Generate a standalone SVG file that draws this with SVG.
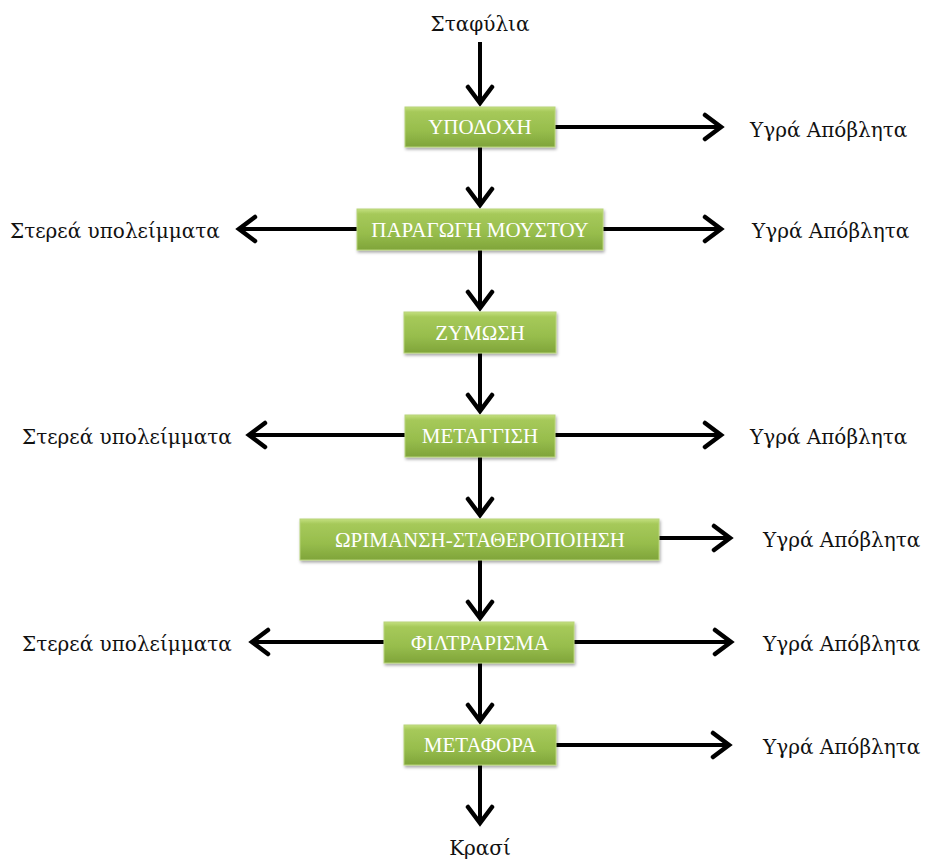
<svg xmlns="http://www.w3.org/2000/svg" width="925" height="861" viewBox="0 0 925 861">
<style>
.lbl{font-family:"DejaVu Serif","Liberation Serif",serif;font-size:20px;fill:#111}
.bt{font-family:"Liberation Serif","DejaVu Serif",serif;font-size:21px;fill:#fff;text-anchor:middle}
.box{fill:url(#g);stroke:#b8d47a;stroke-width:1;filter:url(#sh)}
.ar{stroke:#000;stroke-width:4;fill:none;marker-end:url(#ah)}
</style>
<defs>
<linearGradient id="g" x1="0" y1="0" x2="0" y2="1">
<stop offset="0" stop-color="#c3df7e"/>
<stop offset="0.12" stop-color="#a6c95a"/>
<stop offset="0.6" stop-color="#97bd4c"/>
<stop offset="1" stop-color="#7fa43a"/>
</linearGradient>
<filter id="sh" x="-10%" y="-20%" width="120%" height="150%">
<feDropShadow dx="1" dy="2" stdDeviation="1.5" flood-color="#000" flood-opacity="0.35"/>
</filter>
<marker id="ah" markerUnits="userSpaceOnUse" markerWidth="30" markerHeight="30" viewBox="-20 -15 24 30" refX="0" refY="0" orient="auto">
<path d="M-16 -12 L0 0 L-16 12" fill="none" stroke="#000" stroke-width="4.5" stroke-linecap="round" stroke-linejoin="miter"/>
</marker>
</defs>
<g id="connectors">
<line class="ar" x1="480" y1="42" x2="480" y2="103"/>
<line class="ar" x1="480" y1="147" x2="480" y2="205"/>
<line class="ar" x1="480" y1="250" x2="480" y2="308"/>
<line class="ar" x1="480" y1="353" x2="480" y2="411"/>
<line class="ar" x1="480" y1="457" x2="480" y2="515"/>
<line class="ar" x1="480" y1="560" x2="480" y2="618"/>
<line class="ar" x1="480" y1="663" x2="480" y2="721"/>
<line class="ar" x1="480" y1="765" x2="480" y2="823"/>
<line class="ar" x1="555" y1="127" x2="721" y2="127"/>
<line class="ar" x1="603" y1="229" x2="721" y2="229"/>
<line class="ar" x1="357" y1="229" x2="239" y2="229"/>
<line class="ar" x1="555" y1="435" x2="721" y2="435"/>
<line class="ar" x1="405" y1="435" x2="249" y2="435"/>
<line class="ar" x1="659" y1="538" x2="730" y2="538"/>
<line class="ar" x1="574" y1="642" x2="731" y2="642"/>
<line class="ar" x1="384" y1="642" x2="252" y2="642"/>
<line class="ar" x1="556" y1="745" x2="729" y2="745"/>
</g>
<g id="n1"><rect class="box" x="405" y="107" width="150" height="40"/><text class="bt" x="480" y="134">ΥΠΟΔΟΧΗ</text></g>
<g id="n2"><rect class="box" x="357" y="209" width="246" height="41"/><text class="bt" x="480" y="237">ΠΑΡΑΓΩΓΗ ΜΟΥΣΤΟΥ</text></g>
<g id="n3"><rect class="box" x="404" y="312" width="152" height="41"/><text class="bt" x="480" y="340">ΖΥΜΩΣΗ</text></g>
<g id="n4"><rect class="box" x="405" y="415" width="150" height="42"/><text class="bt" x="480" y="443">ΜΕΤΑΓΓΙΣΗ</text></g>
<g id="n5"><rect class="box" x="300" y="519" width="359" height="41"/><text class="bt" x="480" y="547">ΩΡΙΜΑΝΣΗ-ΣΤΑΘΕΡΟΠΟΙΗΣΗ</text></g>
<g id="n6"><rect class="box" x="384" y="622" width="190" height="41"/><text class="bt" x="480" y="650">ΦΙΛΤΡΑΡΙΣΜΑ</text></g>
<g id="n7"><rect class="box" x="404" y="725" width="152" height="40"/><text class="bt" x="480" y="752">ΜΕΤΑΦΟΡΑ</text></g>
<g id="labels">
<text class="lbl" x="480" y="31" text-anchor="middle">Σταφύλια</text>
<text class="lbl" x="480" y="855" text-anchor="middle">Κρασί</text>
<text class="lbl" x="750" y="137">Υγρά Απόβλητα</text>
<text class="lbl" x="752" y="238">Υγρά Απόβλητα</text>
<text class="lbl" x="750" y="444">Υγρά Απόβλητα</text>
<text class="lbl" x="763" y="547">Υγρά Απόβλητα</text>
<text class="lbl" x="763" y="651">Υγρά Απόβλητα</text>
<text class="lbl" x="763" y="754">Υγρά Απόβλητα</text>
<text class="lbl" x="10" y="238">Στερεά υπολείμματα</text>
<text class="lbl" x="22" y="444">Στερεά υπολείμματα</text>
<text class="lbl" x="22" y="651">Στερεά υπολείμματα</text>
</g>
</svg>
